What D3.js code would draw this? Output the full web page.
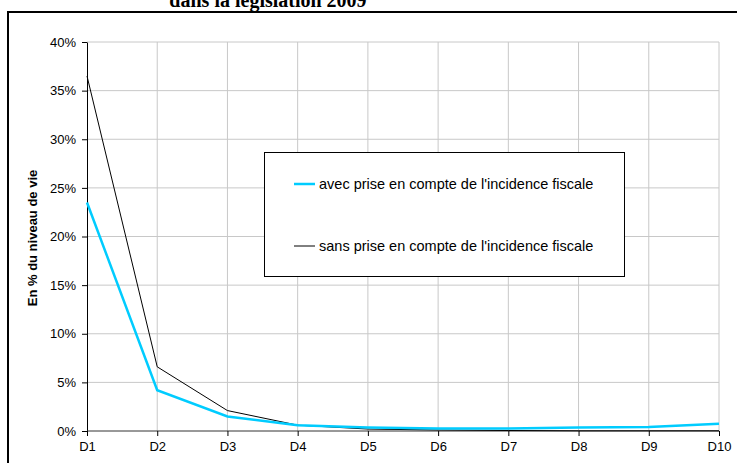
<!DOCTYPE html>
<html><head><meta charset="utf-8">
<script src="https://cdn.jsdelivr.net/npm/d3@7"></script>
<style>html,body{margin:0;padding:0;background:#fff;overflow:hidden}</style>
</head><body>
<svg id="c" width="737" height="463"></svg>
<script>
const categories = ["D1","D2","D3","D4","D5","D6","D7","D8","D9","D10"];
const avecValues = [23.5, 4.2, 1.5, 0.6, 0.35, 0.25, 0.25, 0.35, 0.4, 0.75];
const sansValues = [36.5, 6.6, 2.1, 0.6, 0.2, 0.1, 0.05, 0.02, 0.02, 0.02];
const yTicks = [0,5,10,15,20,25,30,35,40];
const seriesNames = ["avec prise en compte de l'incidence fiscale","sans prise en compte de l'incidence fiscale"];
const titleText = "dans la législation 2009";
const yLabel = "En % du niveau de vie";

const svg = d3.select("#c");
const W = 737, H = 463;
const mLeft = 87, mRight = 719, mTop = 42, mBottom = 431;
const sans = "'Liberation Sans',Arial,sans-serif";

// outer frame
svg.append("path").attr("d", `M8,${H+5} L8,12 L${W+5},12`).attr("fill","none").attr("stroke","#000").attr("stroke-width",2);

svg.append("text").attr("x",268).attr("y",7).attr("text-anchor","middle")
  .attr("font-family","'Liberation Serif','Times New Roman',serif").attr("font-weight","bold").attr("font-size",20)
  .text(titleText);

const x = d3.scalePoint().domain(categories).range([mLeft,mRight]);
const y = d3.scaleLinear().domain([0,40]).range([mBottom,mTop]);

// gridlines
svg.append("g").selectAll("line").data(yTicks.filter(d=>d>0)).join("line")
  .attr("x1",mLeft).attr("x2",mRight).attr("y1",d=>y(d)).attr("y2",d=>y(d))
  .attr("stroke","#c8c8c8").attr("stroke-width",1);
svg.append("g").selectAll("line").data(categories.slice(1)).join("line")
  .attr("x1",d=>x(d)).attr("x2",d=>x(d)).attr("y1",mTop).attr("y2",mBottom)
  .attr("stroke","#c8c8c8").attr("stroke-width",1);

// axes
const yAxis = d3.axisLeft(y).tickValues(yTicks).tickFormat(d=>d+"%").tickSize(5).tickPadding(6).tickSizeOuter(0);
const gy = svg.append("g").attr("transform",`translate(${mLeft},0)`).call(yAxis);
gy.select(".domain").attr("stroke","#000");
gy.selectAll(".tick line").attr("stroke","#000");
gy.selectAll("text").attr("font-family",sans).attr("font-size",13).attr("fill","#000");

const xAxis = d3.axisBottom(x).tickSize(5).tickPadding(6).tickSizeOuter(0);
const gx = svg.append("g").attr("transform",`translate(0,${mBottom})`).call(xAxis);
gx.select(".domain").attr("stroke","#333").attr("d",`M${mLeft},0H${mRight}`);
gx.selectAll(".tick line").attr("stroke","#000");
gx.selectAll("text").attr("font-family",sans).attr("font-size",13).attr("fill","#000");

// y label
svg.append("text").attr("transform","translate(37,238) rotate(-90)").attr("text-anchor","middle")
  .attr("font-family",sans).attr("font-weight","bold").attr("font-size",13)
  .text(yLabel);

const line = d3.line().x((d,i)=>x(categories[i])).y(d=>y(d));
svg.append("path").datum(sansValues).attr("d",line).attr("fill","none").attr("stroke","#000").attr("stroke-width",1);
svg.append("path").datum(avecValues).attr("d",line).attr("fill","none").attr("stroke","#00ccff").attr("stroke-width",2.5);

// legend
const lg = svg.append("g");
lg.append("rect").attr("x",264.5).attr("y",152.5).attr("width",360).attr("height",124).attr("fill","#fff").attr("stroke","#000").attr("stroke-width",1);
const colors = ["#00ccff","#000"], widths=[2.5,1];
const ly = [184, 246];
seriesNames.forEach((n,i)=>{
  lg.append("line").attr("x1",294).attr("x2",315).attr("y1",ly[i]).attr("y2",ly[i]).attr("stroke",colors[i]).attr("stroke-width",widths[i]);
  lg.append("text").attr("x",319).attr("y",ly[i]).attr("dy","0.35em")
    .attr("font-family",sans).attr("font-size",14.5).text(n);
});
</script>
</body></html>
